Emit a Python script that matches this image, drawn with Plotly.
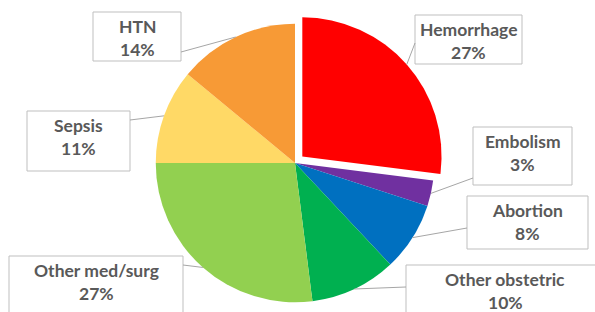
import math
import plotly.graph_objects as go

# ---- data ----
categories = ["Hemorrhage", "Embolism", "Abortion", "Other obstetric",
              "Other med/surg", "Sepsis", "HTN"]
percents = [27, 3, 8, 10, 27, 11, 14]
colors = ["#FF0000", "#7030A0", "#0070C0", "#00B050", "#92D050", "#FFD966", "#F79A36"]
pulls = [0.07, 0, 0, 0, 0, 0, 0]

# ---- layout (pixels) ----
W, H = 595, 312
center_x_px = 295
dom_h_px = 298
dom_w_px = 320

# label boxes: left, top, right, bottom (px) and leader attach point on box
boxes = [
    (415, 15, 522, 64),
    (473, 127, 572, 185),
    (467, 196, 588, 249),
    (406, 265, 604, 322),
    (9, 256, 183, 322),
    (27, 111, 130, 171),
    (93, 12, 181, 61),
]
attach = [
    (415, 43),
    (473, 178),
    (467, 228),
    (406, 287),
    (183, 265),
    (130, 120),
    (181, 52),
]

dom_x = [(center_x_px - dom_w_px / 2) / W, (center_x_px + dom_w_px / 2) / W]
dom_y = [0, dom_h_px / H]

fig = go.Figure(go.Pie(
    labels=categories, values=percents, sort=False, direction="clockwise",
    rotation=0, pull=pulls, textinfo="none", hoverinfo="label+percent",
    marker=dict(colors=colors, line=dict(width=0)),
    domain=dict(x=dom_x, y=dom_y), showlegend=False,
))

# replicate plotly pie geometry to place leader lines
r = min(dom_w_px, dom_h_px) / 2 / (1 + max(pulls))
cx = center_x_px
cy = H - dom_h_px / 2
total = sum(percents)

def px2paper(x, y):
    return x / W, 1 - y / H

shapes = []
annotations = []
cum = 0
for i, (cat, v) in enumerate(zip(categories, percents)):
    mid = 2 * math.pi * (cum + v / 2) / total
    cum += v
    rr = r * (1 + pulls[i])
    rim_x = cx + rr * math.sin(mid)
    rim_y = cy - rr * math.cos(mid)
    l, t, rgt, b = boxes[i]
    x0, y1 = px2paper(l, t)
    x1, y0 = px2paper(rgt, b)
    shapes.append(dict(type="rect", xref="paper", yref="paper",
                       x0=x0, x1=x1, y0=y0, y1=y1,
                       line=dict(color="#BFBFBF", width=1), fillcolor="white",
                       layer="above"))
    ax_, ay_ = px2paper(*attach[i])
    rx_, ry_ = px2paper(rim_x, rim_y)
    shapes.append(dict(type="line", xref="paper", yref="paper",
                       x0=ax_, y0=ay_, x1=rx_, y1=ry_,
                       line=dict(color="#A6A6A6", width=1), layer="above"))
    bcx = (l + rgt) / 2
    bcy = t + 26
    for txt, dy in ((cat, -11.5), (f"{v}%", 11.5)):
        px_, py_ = px2paper(bcx, bcy + dy)
        annotations.append(dict(x=px_, y=py_, xref="paper", yref="paper",
                                text=txt, showarrow=False,
                                xanchor="center", yanchor="middle",
                                font=dict(family="Lato", size=17.5, color="#595959",
                                          weight="bold")))

fig.update_layout(
    width=W, height=H, margin=dict(l=0, r=0, t=0, b=0),
    paper_bgcolor="white", plot_bgcolor="white",
    shapes=shapes, annotations=annotations,
)

fig.write_html("out.html", config={"displayModeBar": False},
               post_script="document.body.style.margin='0';")
